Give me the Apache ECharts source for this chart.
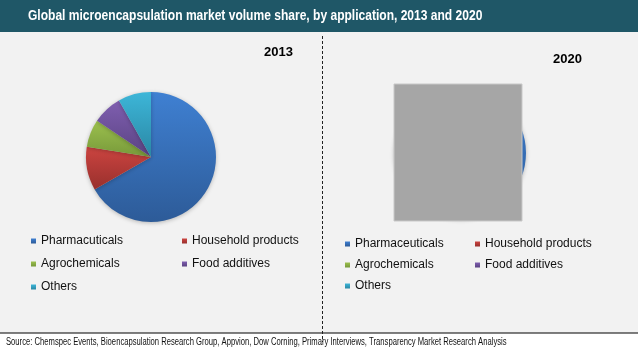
<!DOCTYPE html>
<html>
<head>
<meta charset="utf-8">
<script src="https://cdn.jsdelivr.net/npm/echarts@6/dist/echarts.min.js"></script>
<style>
  html, body { margin: 0; padding: 0; background: #f2f2f2; }
  #chart { width: 638px; height: 353px; }
</style>
</head>
<body>
<div id="chart"></div>
<script>
// data (share of volume, %)
var names2013 = ['Pharmacuticals', 'Household products', 'Agrochemicals', 'Food additives', 'Others']
var names2020 = ['Pharmaceuticals', 'Household products', 'Agrochemicals', 'Food additives', 'Others']
var values2013 = [66.7, 10.8, 6.9, 7.4, 8.2]
var values2020 = [64.5, 11.5, 7.5, 8, 8.5]
var years = ['2013', '2020']
var sourceText = 'Source: Chemspec Events, Bioencapsulation Research Group, Appvion, Dow Corning, Primary Interviews, Transparency Market Research Analysis'

// excel-like gradient colours, light top -> dark bottom
var colorStops = [
  ['#3f80d2', '#2d5b98'],
  ['#cc4440', '#98302d'],
  ['#9cc04e', '#77993a'],
  ['#7f5fb0', '#5a4282'],
  ['#3db6d8', '#2a87a4'],
]

function grad(i) {
  return new echarts.graphic.LinearGradient(0, 0, 0, 1, [
    { offset: 0, color: colorStops[i][0] },
    { offset: 1, color: colorStops[i][1] },
  ])
}

function pieData(names, values) {
  return names.map(function (n, i) {
    return { name: n, value: values[i], itemStyle: { color: grad(i) } }
  })
}

// one legend per item so the two columns line up like the original
var legendPos = [
  { col: [31, 182], row: [235, 258, 281] },
  { col: [345, 475], row: [238, 259, 280] },
]
var legends = []
;[names2013, names2020].forEach(function (names, p) {
  names.forEach(function (n, i) {
    legends.push({
      data: [n],
      left: legendPos[p].col[i % 2],
      top: legendPos[p].row[Math.floor(i / 2)],
      icon: 'rect',
      itemWidth: 5,
      itemHeight: 5,
      padding: 0,
      selectedMode: false,
      textStyle: { fontFamily: 'Liberation Sans', fontSize: 12, color: '#111' },
    })
  })
})

var myChart = echarts.init(document.getElementById('chart'))
var option = {
  backgroundColor: '#f2f2f2',
  animation: false,
  legend: legends,
  series: [
    {
      type: 'pie',
      center: [151, 157],
      radius: 65,
      startAngle: 90,
      label: { show: false },
      labelLine: { show: false },
      silent: true,
      itemStyle: { shadowBlur: 4, shadowColor: 'rgba(0,0,0,0.25)', shadowOffsetY: 1 },
      data: pieData(names2013, values2013),
    },
    {
      type: 'pie',
      center: [460, 153],
      radius: 66,
      startAngle: 90,
      label: { show: false },
      labelLine: { show: false },
      silent: true,
      itemStyle: { shadowBlur: 4, shadowColor: 'rgba(0,0,0,0.25)', shadowOffsetY: 1 },
      data: pieData(names2020, values2020),
    },
  ],
  graphic: [
    // title bar
    { type: 'rect', shape: { x: 0, y: 0, width: 638, height: 32 }, style: { fill: '#1f5767' }, z: 10 },
    {
      type: 'text', x: 28, y: 9, scaleX: 0.86, z: 11,
      style: { text: 'Global microencapsulation market volume share, by application, 2013 and 2020', fill: '#fff', font: 'bold 14px "Liberation Sans"' },
    },
    // year labels
    { type: 'text', left: 264, top: 46, z: 11, style: { text: years[0], fill: '#000', font: 'bold 13px "Liberation Sans"' } },
    { type: 'text', left: 553, top: 53, z: 11, style: { text: years[1], fill: '#000', font: 'bold 13px "Liberation Sans"' } },
    // grey box covering the 2020 pie in the original
    { type: 'rect', shape: { x: 394, y: 84, width: 128, height: 137 }, style: { fill: '#a6a6a6', stroke: '#c8c8c8', lineWidth: 1 }, z: 20 },
    // dashed divider
    { type: 'line', shape: { x1: 322.5, y1: 36, x2: 322.5, y2: 342 }, style: { stroke: '#222', lineWidth: 1, lineDash: [3, 2] }, z: 12 },
    // footer
    { type: 'rect', shape: { x: 0, y: 333, width: 638, height: 20 }, style: { fill: '#fff' }, z: 10 },
    { type: 'line', shape: { x1: 0, y1: 333, x2: 638, y2: 333 }, style: { stroke: '#000', lineWidth: 1.2 }, z: 11 },
    {
      type: 'text', x: 6, y: 337, scaleX: 0.765, z: 13,
      style: { text: sourceText, fill: '#111', font: '10px "Liberation Sans"' },
    },
  ],
}
myChart.setOption(option)
window.onresize = myChart.resize
</script>
</body>
</html>
